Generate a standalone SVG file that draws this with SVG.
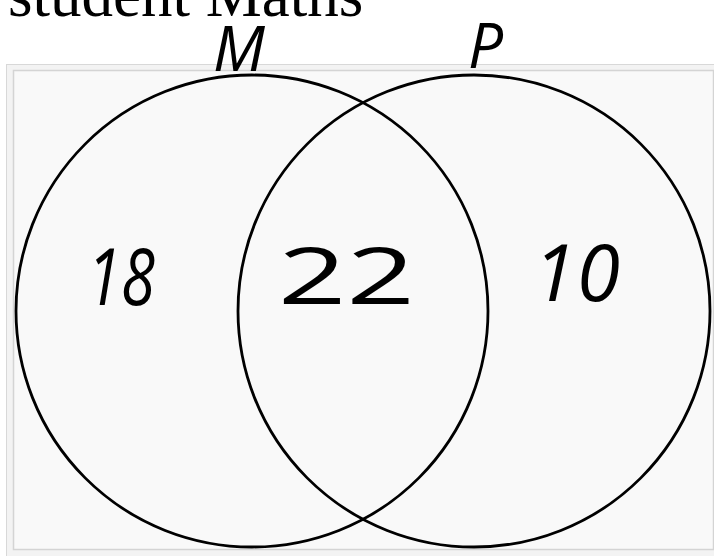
<svg xmlns="http://www.w3.org/2000/svg" width="714" height="556" viewBox="0 0 714 556">
<style>
.title{font-family:"Liberation Serif","Times New Roman",serif;font-size:63px;fill:#000}
.hand{font-family:"Open Sans","DejaVu Sans",sans-serif;fill:#000}
.num{font-size:78px;font-weight:400}
.lbl{font-size:62px;font-weight:400}
.set{fill:none;stroke:#000;stroke-width:2.8}
</style>
<rect x="6.5" y="64.5" width="720" height="500" fill="#f3f3f3" stroke="#d8d8d8" stroke-width="1"/>
<rect x="13.5" y="70.5" width="700" height="479" fill="#f9f9f9" stroke="#d4d4d4" stroke-width="1.5"/>
<text class="title" x="8" y="16">student Maths</text>
<g id="setM">
<circle class="set" cx="252" cy="311" r="236"/>
<text class="hand lbl" x="213" y="71" font-style="italic">M</text>
</g>
<g id="setP">
<circle class="set" cx="474" cy="311" r="236"/>
<text class="hand lbl" x="468" y="68" font-size="80" font-style="italic">P</text>
</g>
<g id="regions">
<text class="hand num" x="87" y="305" textLength="68" lengthAdjust="spacingAndGlyphs" font-style="italic">18</text>
<text class="hand num" x="278" y="304" textLength="137" lengthAdjust="spacingAndGlyphs">22</text>
<text class="hand num" x="533" y="301" textLength="87" lengthAdjust="spacing" font-style="italic">10</text>
</g>
<g id="connectors"></g>
</svg>
